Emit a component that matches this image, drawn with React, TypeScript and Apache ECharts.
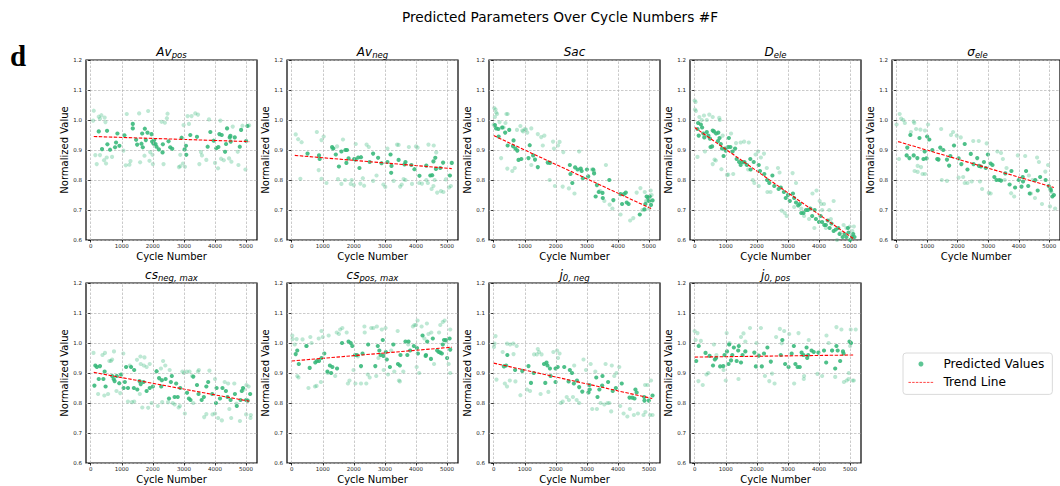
import React, { useEffect, useRef } from "react";
import * as echarts from "echarts";

const FONT = "DejaVu Sans";
const POINT_COLOR = "#35b779";

const mainTitle = "Predicted Parameters Over Cycle Numbers #F";
const panelLetter = "d";
const xAxisName = "Cycle Number";
const yAxisName = "Normalized Value";
const legendNames = ["Predicted Values", "Trend Line"];
const xTickValues = [0, 1000, 2000, 3000, 4000, 5000];
const yTickValues = [0.6, 0.7, 0.8, 0.9, 1.0, 1.1, 1.2];

// ---------- Av_pos ----------
const avPosDark = [[260,0.962],[365,0.903],[527,0.964],[538,0.919],[624,0.901],[785,0.909],[817,0.925],[860,0.955],[925,0.914],[1086,0.949],[1355,0.987],[1355,0.972],[1462,0.934],[1495,0.918],[1634,0.921],[1656,0.955],[1677,0.909],[1742,0.971],[1774,0.933],[1828,0.958],[1957,0.953],[1978,0.928],[2022,0.921],[2043,0.933],[2086,0.92],[2118,0.911],[2194,0.902],[2322,0.919],[2312,0.892],[2505,0.929],[2559,0.909],[2624,0.904],[2925,0.941],[3022,0.902],[3065,0.914],[3075,0.884],[3204,0.95],[3419,0.944],[3763,0.911],[3849,0.96],[3957,0.931],[4043,0.906],[4108,0.91],[4140,0.953],[4215,0.95],[4323,0.894],[4355,0.92],[4387,0.972],[4473,0.942],[4495,0.947],[4505,0.928],[4634,0.942],[4796,0.911],[4839,0.967],[5000,0.93],[5043,0.98]];
const avPosLight = [[100,1.031],[80,0.998],[150,0.883],[195,0.853],[260,1.011],[300,1.004],[345,1.016],[300,0.883],[450,1.008],[475,0.993],[430,0.866],[495,0.855],[516,0.875],[688,0.877],[1054,0.898],[1129,0.849],[1161,1.02],[1247,0.851],[1280,0.863],[1559,1.022],[1591,0.859],[1731,0.881],[1849,1.03],[1892,0.864],[1914,0.893],[1989,0.884],[2000,0.853],[2280,0.994],[2344,0.853],[2387,0.991],[2452,1.006],[2473,1.021],[2839,0.843],[2882,0.846],[2882,0.884],[2968,0.855],[2989,0.983],[3032,0.844],[3118,1.013],[3161,0.987],[3247,1.013],[3366,1.022],[3452,1.018],[3495,0.853],[3548,0.893],[3580,0.882],[3720,0.867],[3806,1.002],[4000,0.857],[4097,0.839],[4172,0.998],[4194,0.871],[4280,0.866],[4452,0.872],[4527,0.861],[4570,0.978],[4731,0.894],[4753,0.85],[4882,0.981],[4978,0.835],[5097,0.982]];
const avPosTrend = [[100,0.945],[5100,0.928]];

// ---------- Av_neg ----------
const avNegDark = [[510,0.888],[880,0.882],[900,0.87],[1300,0.91],[1340,0.905],[1420,0.885],[1520,0.845],[1600,0.895],[1730,0.9],[1780,0.9],[1760,0.857],[1830,0.872],[2010,0.87],[2050,0.868],[2140,0.875],[2180,0.84],[2230,0.876],[2510,0.86],[2620,0.888],[2780,0.874],[2890,0.856],[3080,0.86],[3180,0.885],[3210,0.847],[3200,0.824],[3440,0.867],[3630,0.852],[3660,0.86],[3850,0.85],[3950,0.836],[4110,0.814],[4330,0.848],[4460,0.815],[4520,0.816],[4560,0.862],[4620,0.874],[4640,0.837],[4780,0.84],[4870,0.858],[5090,0.815],[5150,0.857]];
const avNegLight = [[130,0.952],[210,0.936],[320,0.926],[280,0.804],[810,0.96],[870,0.833],[960,0.933],[1030,0.945],[960,0.804],[1120,0.79],[1310,0.905],[1460,0.912],[1490,0.803],[1600,0.787],[1650,0.935],[1720,0.8],[1900,0.787],[1930,0.8],[2000,0.783],[2060,0.92],[2210,0.788],[2290,0.806],[2330,0.781],[2410,0.918],[2480,0.91],[2620,0.797],[2730,0.815],[2950,0.785],[3010,0.777],[3080,0.905],[3280,0.797],[3390,0.918],[3440,0.917],[3490,0.778],[3540,0.785],[3600,0.803],[3660,0.8],[3770,0.91],[3870,0.787],[4000,0.912],[4050,0.908],[4100,0.79],[4190,0.788],[4330,0.8],[4380,0.79],[4400,0.918],[4500,0.77],[4560,0.78],[4570,0.915],[4650,0.892],[4680,0.758],[4800,0.763],[4880,0.76],[4960,0.802],[5060,0.775],[5120,0.78],[4600,0.8]];
const avNegTrend = [[100,0.882],[5150,0.838]];

// ---------- Sac ----------
const sacDark = [[40,0.983],[80,0.972],[150,0.97],[160,0.945],[280,0.975],[370,0.958],[450,0.915],[500,0.967],[620,0.913],[640,0.932],[700,0.905],[760,0.898],[800,0.867],[890,0.87],[1120,0.873],[1160,0.916],[1270,0.882],[1330,0.868],[1420,0.843],[1740,0.858],[1810,0.857],[2450,0.85],[2470,0.82],[2530,0.79],[2620,0.842],[2700,0.835],[2800,0.838],[2830,0.83],[2870,0.806],[3000,0.835],[3040,0.812],[3200,0.835],[3230,0.822],[3320,0.783],[3280,0.745],[3380,0.76],[3500,0.757],[3510,0.74],[3720,0.8],[3850,0.733],[4080,0.753],[4130,0.72],[4190,0.753],[4250,0.758],[4280,0.725],[4340,0.72],[4700,0.685],[4850,0.702],[4880,0.72],[4920,0.745],[4970,0.74],[5000,0.73],[5020,0.745],[5060,0.717],[5110,0.732]];
const sacLight = [[20,1.04],[60,1.035],[80,1.025],[110,1.02],[0,0.984],[40,1.01],[190,0.993],[260,0.975],[320,0.975],[410,1.02],[380,0.99],[450,1.02],[240,0.873],[440,0.838],[600,0.83],[680,0.84],[750,0.967],[860,0.98],[920,0.965],[950,0.962],[1000,0.97],[1040,0.968],[1080,0.958],[1210,0.972],[1210,0.85],[1420,0.953],[1530,0.943],[1630,0.948],[1580,0.915],[1800,0.8],[1910,0.928],[1940,0.905],[1970,0.78],[2070,0.915],[2120,0.927],[2220,0.778],[2240,0.893],[2420,0.772],[2600,0.755],[2750,0.895],[3160,0.835],[3230,0.83],[3420,0.764],[3560,0.73],[3610,0.85],[3730,0.718],[3820,0.705],[4080,0.685],[4390,0.665],[4490,0.673],[4600,0.758],[4720,0.773],[4780,0.7],[4860,0.76],[4950,0.73],[5050,0.765],[5080,0.75],[4900,0.73],[5000,0.705]];
const sacTrend = [[0,0.948],[5100,0.703]];

// ---------- D_ele ----------
const dEleDark = [[90,0.97],[110,0.99],[130,0.948],[200,0.985],[240,0.975],[280,0.955],[310,0.942],[390,0.96],[440,0.948],[490,0.938],[510,0.91],[560,0.912],[580,0.965],[620,0.962],[690,0.955],[750,0.93],[760,0.958],[800,0.94],[840,0.92],[880,0.905],[930,0.88],[980,0.905],[1000,0.898],[1080,0.91],[1100,0.94],[1150,0.91],[1220,0.895],[1300,0.905],[1350,0.87],[1430,0.86],[1480,0.85],[1530,0.86],[1600,0.86],[1680,0.85],[1790,0.87],[1800,0.835],[1900,0.86],[2060,0.85],[2100,0.83],[2240,0.82],[2330,0.8],[2400,0.79],[2500,0.815],[2560,0.78],[2700,0.77],[2770,0.775],[2870,0.76],[2930,0.74],[3000,0.75],[3060,0.73],[3160,0.755],[3200,0.74],[3260,0.725],[3330,0.715],[3380,0.72],[3430,0.69],[3500,0.69],[3580,0.7],[3640,0.7],[3720,0.705],[3780,0.68],[3860,0.7],[3900,0.67],[4000,0.66],[4050,0.68],[4100,0.66],[4170,0.65],[4220,0.65],[4280,0.665],[4340,0.64],[4400,0.655],[4470,0.63],[4540,0.635],[4620,0.64],[4660,0.62],[4760,0.61],[4820,0.62],[4880,0.61],[4950,0.625],[5000,0.6],[5060,0.61],[5100,0.62],[5140,0.61],[4930,0.64]];
const dEleLight = [[0,1.065],[30,1.06],[10,1.035],[40,1.03],[150,1.01],[230,1.0],[300,1.015],[390,1.0],[470,1.018],[580,1.01],[790,1.007],[810,1.0],[90,0.877],[330,0.895],[640,0.868],[680,0.865],[580,0.853],[860,0.836],[900,0.948],[1040,0.817],[1080,0.818],[1240,0.82],[1170,0.955],[1330,0.923],[1480,0.925],[1590,0.928],[1740,0.925],[1620,0.855],[1720,0.835],[1870,0.8],[1920,0.79],[1960,0.885],[2040,0.895],[2130,0.875],[2230,0.888],[2320,0.84],[2340,0.76],[2440,0.76],[2060,0.78],[2680,0.84],[2730,0.825],[2800,0.698],[2900,0.69],[2960,0.68],[3150,0.823],[3200,0.71],[3260,0.79],[3430,0.705],[3520,0.68],[3680,0.67],[3790,0.755],[3920,0.765],[3850,0.64],[4020,0.73],[4070,0.72],[4100,0.7],[4160,0.72],[4330,0.7],[4380,0.67],[4220,0.64],[4470,0.73],[4580,0.6],[4790,0.65],[4880,0.64],[4990,0.645],[5070,0.63],[5120,0.645],[4690,0.625]];
const dEleTrend = [[0,0.975],[5100,0.605]];

// ---------- sigma_ele ----------
const sigmaEleDark = [[330,0.882],[350,0.908],[420,0.873],[450,0.95],[560,0.882],[680,0.873],[750,0.94],[880,0.87],[920,0.895],[980,0.872],[1000,0.945],[1070,0.935],[1170,0.9],[1330,0.87],[1370,0.868],[1430,0.908],[1530,0.9],[1650,0.868],[1720,0.848],[1760,0.88],[1880,0.915],[2030,0.872],[2120,0.853],[2230,0.92],[2320,0.835],[2430,0.887],[2520,0.853],[2640,0.873],[2700,0.847],[2760,0.845],[2860,0.86],[2920,0.84],[2990,0.885],[3080,0.855],[3140,0.85],[3200,0.81],[3270,0.8],[3360,0.8],[3420,0.798],[3560,0.822],[3760,0.83],[3700,0.785],[3880,0.775],[4000,0.8],[4090,0.778],[4130,0.81],[4140,0.795],[4240,0.83],[4310,0.78],[4360,0.755],[4540,0.8],[4620,0.765],[4700,0.81],[4880,0.8],[4980,0.78],[5040,0.77],[5100,0.745],[5150,0.75],[5050,0.765]];
const sigmaEleLight = [[0,0.985],[100,1.02],[150,1.005],[220,1.0],[270,0.99],[80,0.87],[560,0.995],[580,0.99],[470,0.96],[640,0.97],[780,0.968],[930,0.965],[1030,0.985],[590,0.83],[690,0.847],[690,0.827],[800,0.843],[850,0.82],[930,0.82],[1460,0.97],[1370,0.87],[1480,0.8],[1650,0.797],[1780,0.95],[1850,0.96],[1970,0.948],[2100,0.942],[2180,0.81],[2230,0.79],[2320,0.79],[2030,0.808],[2460,0.795],[2510,0.93],[2690,0.93],[2730,0.795],[2800,0.77],[2950,0.922],[3020,0.757],[3080,0.755],[3300,0.895],[3420,0.89],[3480,0.87],[3540,0.8],[3600,0.84],[3750,0.756],[3850,0.745],[3970,0.882],[4210,0.88],[4330,0.815],[4400,0.755],[4600,0.875],[4660,0.86],[4760,0.72],[4870,0.828],[4960,0.85],[5020,0.712],[5070,0.76],[5190,0.705],[4450,0.8],[4530,0.74]];
const sigmaEleTrend = [[50,0.928],[5150,0.775]];

// ---------- cs_neg,max ----------
const csNegDark = [[120,0.858],[150,0.925],[200,0.92],[260,0.88],[300,0.923],[410,0.88],[450,0.905],[480,0.855],[690,0.89],[740,0.88],[770,0.873],[840,0.89],[920,0.866],[980,0.895],[1060,0.85],[1100,0.87],[1140,0.92],[1200,0.85],[1300,0.92],[1390,0.85],[1400,0.91],[1500,0.845],[1570,0.873],[1610,0.863],[1700,0.87],[1800,0.84],[1900,0.85],[2000,0.855],[2120,0.906],[2200,0.883],[2270,0.855],[2290,0.876],[2410,0.88],[2520,0.815],[2580,0.87],[2610,0.89],[2700,0.82],[2750,0.865],[2800,0.82],[2880,0.85],[3100,0.834],[3160,0.815],[3210,0.81],[3300,0.888],[3420,0.86],[3470,0.83],[3570,0.81],[3640,0.82],[3720,0.855],[3780,0.87],[3910,0.83],[4030,0.8],[4050,0.85],[4160,0.815],[4240,0.85],[4350,0.84],[4400,0.82],[4500,0.81],[4640,0.83],[4700,0.79],[4820,0.81],[4860,0.84],[4900,0.85],[5000,0.81],[5050,0.808],[5130,0.83]];
const csNegLight = [[90,0.967],[240,0.83],[380,0.96],[440,0.825],[460,0.967],[560,0.83],[600,0.94],[650,0.94],[690,0.945],[750,0.972],[830,0.84],[950,0.833],[1050,0.965],[1200,0.805],[1260,0.925],[1330,0.803],[1400,0.805],[1490,0.944],[1580,0.83],[1600,0.955],[1610,0.93],[1660,0.785],[1730,0.952],[1710,0.925],[1800,0.92],[1850,0.784],[1900,0.93],[1960,0.8],[2160,0.79],[2260,0.915],[2300,0.803],[2330,0.94],[2400,0.925],[2490,0.803],[2540,0.91],[2640,0.8],[2700,0.795],[2830,0.785],[2870,0.79],[2950,0.905],[3000,0.9],[3030,0.765],[3090,0.905],[3180,0.905],[3260,0.89],[3300,0.8],[3450,0.905],[3480,0.91],[3650,0.753],[3720,0.763],[3820,0.908],[3920,0.762],[4000,0.765],[4000,0.88],[4100,0.75],[4220,0.742],[4310,0.87],[4420,0.865],[4460,0.78],[4520,0.75],[4620,0.865],[4690,0.798],[4800,0.74],[4930,0.845],[5000,0.762],[5010,0.86],[5080,0.855],[5140,0.75],[5150,0.76]];
const csNegTrend = [[100,0.902],[5100,0.806]];

// ---------- cs_pos,max ----------
const csPosDark = [[130,0.963],[180,0.975],[230,0.93],[480,0.99],[580,0.917],[760,0.935],[810,0.94],[880,0.94],[960,0.95],[1050,0.965],[1150,0.905],[1230,0.925],[1270,0.9],[1310,0.92],[1460,0.915],[1620,1.0],[1830,1.005],[1900,1.0],[1950,0.99],[2040,0.96],[2100,0.96],[2230,0.923],[2280,0.965],[2460,0.995],[2690,0.923],[2770,0.99],[2820,0.975],[2860,0.96],[2930,1.01],[2950,0.957],[3030,0.97],[3060,0.945],[3160,0.92],[3270,0.995],[3420,0.93],[3480,0.925],[3500,0.96],[3660,1.005],[3720,0.96],[3760,1.005],[3810,0.975],[3930,0.99],[4030,0.983],[4060,0.965],[4210,1.025],[4310,0.957],[4320,0.96],[4360,1.005],[4480,0.947],[4540,1.015],[4680,0.975],[4730,0.97],[4780,0.968],[4830,0.965],[4860,0.995],[4900,1.01],[4960,1.01],[5000,0.95],[5080,1.015],[5100,0.978]];
const csPosLight = [[20,1.025],[30,1.013],[100,0.995],[180,0.89],[220,0.885],[160,1.013],[350,1.012],[460,0.99],[540,0.85],[600,1.02],[640,1.0],[750,0.855],[800,0.857],[870,1.015],[940,0.87],[960,1.04],[1000,1.02],[1160,0.9],[1190,1.025],[1400,0.89],[1450,1.035],[1520,1.03],[1560,1.045],[1630,1.05],[1770,1.035],[1810,0.865],[1860,0.875],[1990,0.91],[2050,0.865],[2130,0.955],[2230,0.865],[2340,1.055],[2350,1.035],[2400,0.865],[2450,0.895],[2510,0.885],[2560,1.05],[2630,1.05],[2720,0.89],[2740,1.055],[2790,0.95],[2900,1.045],[2960,0.91],[3020,1.05],[3100,0.895],[3200,0.975],[3300,0.905],[3410,1.04],[3450,0.875],[3480,0.872],[3590,0.905],[3750,0.995],[3900,1.055],[3950,1.06],[4000,1.06],[4020,0.92],[4050,1.075],[4100,0.9],[4180,1.055],[4270,1.015],[4350,1.065],[4400,1.03],[4490,1.035],[4580,0.93],[4740,1.035],[4780,1.06],[4860,1.07],[4920,1.075],[4970,1.005],[5050,0.93],[5100,0.9],[5100,1.045]];
const csPosTrend = [[0,0.94],[5150,0.986]];

// ---------- j0,neg ----------
const j0NegDark = [[330,0.922],[400,0.925],[440,0.96],[690,0.91],[920,0.907],[1120,0.923],[1200,0.867],[1290,0.9],[1620,0.93],[1660,0.867],[1700,0.935],[1730,0.925],[1810,0.915],[1830,0.89],[1990,0.87],[1990,0.915],[2060,0.92],[2270,0.92],[2410,0.872],[2450,0.91],[2520,0.9],[2580,0.865],[2680,0.875],[2750,0.853],[2850,0.838],[3050,0.835],[3080,0.86],[3090,0.845],[3300,0.885],[3340,0.82],[3400,0.845],[3490,0.858],[3500,0.89],[3680,0.87],[3830,0.84],[3930,0.85],[4120,0.865],[4370,0.818],[4460,0.818],[4530,0.815],[4560,0.845],[4600,0.835],[4850,0.808],[4840,0.82],[4990,0.808],[5110,0.825]];
const j0NegLight = [[10,0.987],[30,0.998],[60,1.023],[90,0.878],[290,0.97],[360,0.865],[430,0.855],[430,0.998],[530,0.995],[630,0.998],[640,0.963],[740,0.99],[520,0.875],[700,0.872],[860,0.826],[1070,0.845],[1170,0.84],[1300,0.962],[1390,0.962],[1420,0.98],[1460,0.97],[1510,0.83],[1540,0.962],[1760,0.837],[1920,0.97],[2040,0.975],[2120,0.965],[2070,0.95],[2160,0.8],[2220,0.805],[2350,0.82],[2420,0.81],[2550,0.82],[2590,0.925],[2670,0.81],[2750,0.8],[2890,0.945],[2970,0.91],[3120,0.93],[3170,0.78],[3270,0.905],[3320,0.78],[3440,0.8],[3560,0.795],[3600,0.93],[3660,0.8],[3720,0.8],[3780,0.772],[3800,0.925],[3880,0.89],[3950,0.9],[4040,0.92],[4070,0.79],[4180,0.765],[4300,0.755],[4380,0.78],[4510,0.76],[4640,0.765],[4820,0.76],[4880,0.77],[4950,0.86],[5030,0.76],[5060,0.875],[5110,0.76],[4870,0.86]];
const j0NegTrend = [[0,0.933],[5100,0.815]];

// ---------- j0,pos ----------
const j0PosDark = [[50,0.94],[130,0.99],[350,0.967],[480,0.957],[590,0.925],[650,0.945],[690,0.95],[820,0.922],[920,0.923],[960,0.96],[1040,0.972],[1090,0.93],[1110,0.995],[1170,0.942],[1210,0.96],[1260,0.985],[1350,0.94],[1400,0.975],[1420,0.99],[1490,0.935],[1540,0.96],[1630,0.972],[1920,0.968],[1970,0.922],[2060,0.958],[2160,0.922],[2230,0.965],[2340,0.985],[2450,0.938],[2770,0.96],[2820,1.01],[2910,0.93],[3020,0.92],[3120,0.965],[3190,0.99],[3240,0.93],[3310,0.92],[3380,0.92],[3440,0.968],[3500,0.96],[3600,0.985],[3620,0.95],[3650,0.96],[3760,0.975],[3830,0.97],[3980,0.968],[4160,0.975],[4230,0.935],[4420,0.975],[4520,0.915],[4560,0.99],[4600,0.975],[4680,0.94],[4770,0.972],[4790,0.965],[4980,1.005],[5030,1.0]];
const j0PosLight = [[0,1.04],[30,1.01],[90,1.033],[120,0.873],[200,1.007],[260,0.86],[380,0.895],[440,0.9],[620,0.995],[700,0.96],[930,0.91],[1030,1.033],[1000,0.875],[1120,1.0],[1410,0.88],[1490,1.02],[1570,1.032],[1630,1.005],[1780,1.05],[1990,1.0],[2130,1.05],[2260,0.89],[2400,0.873],[2490,0.898],[2570,0.865],[2620,1.02],[2740,1.047],[2800,0.999],[2880,1.04],[3040,1.03],[3200,0.865],[3340,1.033],[3510,0.88],[3520,0.89],[3670,1.01],[3950,0.897],[4100,0.89],[4240,1.025],[4310,1.0],[4420,0.975],[4520,0.887],[4560,1.053],[4720,1.045],[4800,0.87],[4890,0.875],[4960,0.9],[5020,1.045],[5080,0.875],[5120,0.875],[5180,1.045],[4950,0.88],[5000,0.99]];
const j0PosTrend = [[0,0.953],[5100,0.96]];

const panelTitles = [
  "{m|Av}{s|pos}",
  "{m|Av}{s|neg}",
  "{m|Sac}",
  "{m|D}{s|ele}",
  "{m|σ}{s|ele}",
  "{m|cs}{s|neg, max}",
  "{m|cs}{s|pos, max}",
  "{m|j}{s|0, neg}",
  "{m|j}{s|0, pos}",
];
const panelDark = [avPosDark, avNegDark, sacDark, dEleDark, sigmaEleDark, csNegDark, csPosDark, j0NegDark, j0PosDark];
const panelLight = [avPosLight, avNegLight, sacLight, dEleLight, sigmaEleLight, csNegLight, csPosLight, j0NegLight, j0PosLight];
const panelTrend = [avPosTrend, avNegTrend, sacTrend, dEleTrend, sigmaEleTrend, csNegTrend, csPosTrend, j0NegTrend, j0PosTrend];

const GRID_LEFTS = [86, 287, 489, 690, 892];
const GRID_TOPS = [60, 283];
const GW = 171;
const GH = 180;
const GRID_LINE = { color: "#b4b4b4", type: [2.5, 1.5] as number[], width: 0.7 };
const TREND_LINE = { color: "#ff0000", width: 1.1, type: [3.5, 1.5] as number[] };

function buildOption() {
  const grids: any[] = [];
  const xAxes: any[] = [];
  const yAxes: any[] = [];
  const series: any[] = [];
  const graphics: any[] = [];

  panelTitles.forEach((title, i) => {
    const col = i % 5;
    const row = Math.floor(i / 5);
    const left = GRID_LEFTS[col];
    const top = GRID_TOPS[row];
    grids.push({
      left, top, width: GW, height: GH,
      show: true, borderColor: "#000", borderWidth: 1.2, backgroundColor: "transparent",
    });
    xAxes.push({
      type: "value", gridIndex: i, min: -150, max: 5350,
      name: xAxisName, nameLocation: "middle", nameGap: 11,
      nameTextStyle: { fontFamily: FONT, fontSize: 10, color: "#000" },
      axisLine: { show: false },
      axisTick: { show: true, length: 2.5, customValues: xTickValues, lineStyle: { color: "#000", width: 0.8 } },
      axisLabel: {
        fontFamily: FONT, fontSize: 5.5, color: "#222", margin: 3,
        customValues: xTickValues,
        formatter: (v: number) => String(Math.round(v)),
      },
      splitLine: { show: false },
    });
    yAxes.push({
      type: "value", gridIndex: i, min: 0.6, max: 1.2, interval: 0.1,
      name: yAxisName, nameLocation: "middle", nameGap: 17, nameRotate: 90,
      nameTextStyle: { fontFamily: FONT, fontSize: 10, color: "#000" },
      axisLine: { show: false },
      axisTick: { show: true, length: 2.5, lineStyle: { color: "#000", width: 0.8 } },
      axisLabel: {
        fontFamily: FONT, fontSize: 5.5, color: "#222", margin: 4,
        formatter: (v: number) => {
          const f = v.toFixed(1);
          return yTickValues.map((t) => t.toFixed(1)).indexOf(f) >= 0 ? f : "";
        },
      },
      splitLine: { show: true, lineStyle: GRID_LINE },
    });
    const data = [
      ...panelDark[i].map((p) => ({ value: p, itemStyle: { opacity: 0.88 } })),
      ...panelLight[i].map((p) => ({ value: p, itemStyle: { opacity: 0.32 } })),
    ];
    series.push({
      name: legendNames[0], type: "scatter", xAxisIndex: i, yAxisIndex: i,
      symbolSize: 4.2, itemStyle: { color: POINT_COLOR }, data, z: 2,
      markLine: {
        silent: true, symbol: "none", animation: false,
        label: { show: false },
        lineStyle: GRID_LINE,
        data: xTickValues.map((v) => ({ xAxis: v })),
      },
    });
    series.push({
      name: legendNames[1], type: "line", xAxisIndex: i, yAxisIndex: i,
      symbol: "none", showSymbol: false, data: panelTrend[i], z: 3,
      lineStyle: TREND_LINE,
      itemStyle: { color: "#ff0000" },
    });
    graphics.push({
      type: "text", x: left + GW / 2, y: top - 1,
      style: {
        text: title, align: "center", verticalAlign: "bottom",
        rich: {
          m: { fontFamily: FONT, fontStyle: "italic", fontSize: 12, fill: "#000", lineHeight: 14 },
          s: { fontFamily: FONT, fontStyle: "italic", fontSize: 8.5, fill: "#000", lineHeight: 14, padding: [6, 0, 0, 0] },
        },
      },
    });
  });

  graphics.push({
    type: "text", x: 560, y: 17,
    style: { text: mainTitle, align: "center", verticalAlign: "middle", fontFamily: FONT, fontSize: 13.7, fill: "#000" },
  });
  graphics.push({
    type: "text", x: 10, y: 41,
    style: { text: panelLetter, align: "left", verticalAlign: "alphabetic", fontFamily: "Liberation Serif", fontWeight: "bold", fontSize: 29, fill: "#000" },
  });

  return {
    animation: false,
    grid: grids,
    xAxis: xAxes,
    yAxis: yAxes,
    series,
    graphic: graphics,
    legend: {
      data: [
        { name: legendNames[0], icon: "circle" },
        { name: legendNames[1], itemStyle: { opacity: 0 }, lineStyle: { width: 0.9, type: [2.5, 1.2], color: "#ff3030" } },
      ],
      orient: "vertical", left: 903, top: 353,
      itemWidth: 25, itemHeight: 5, itemGap: 4.4,
      padding: [4, 8, 5, 5],
      borderColor: "#d0d0d0", borderWidth: 0.8, borderRadius: 3,
      textStyle: { fontFamily: FONT, fontSize: 12.2, color: "#000", lineHeight: 14, padding: [0, 0, 0, 5] },
    },
  };
}

export default function App() {
  const ref = useRef<HTMLDivElement>(null);
  useEffect(() => {
    document.body.style.margin = "0";
    const chart = echarts.init(ref.current!, undefined, { renderer: "svg" });
    chart.setOption(buildOption() as any);
    return () => chart.dispose();
  }, []);
  return <div ref={ref} style={{ width: 1060, height: 486 }} />;
}
